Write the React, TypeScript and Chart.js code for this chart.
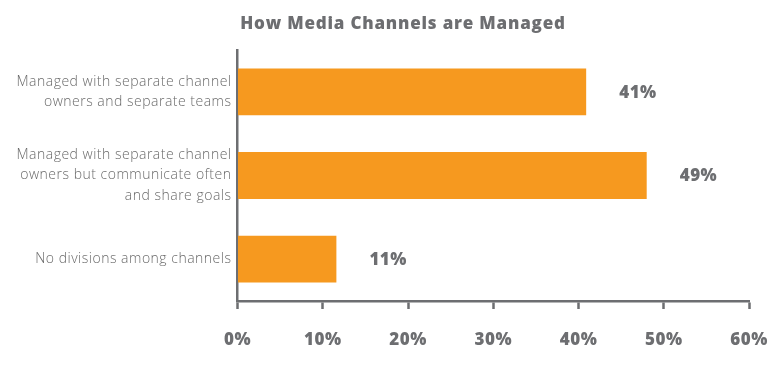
import React, { useEffect, useRef } from "react";
import { Chart, registerables } from "chart.js";

Chart.register(...registerables);

const TITLE = "How Media Channels are Managed";
const categories: string[][] = [
  ["Managed with separate channel", "owners and separate teams"],
  ["Managed with separate channel", "owners but communicate often", "and share goals"],
  ["No divisions among channels"],
];
const values: number[] = [40.9, 48.0, 11.6];
const valueLabels: string[] = ["41%", "49%", "11%"];
const xTicks: number[] = [0, 10, 20, 30, 40, 50, 60];

const ORANGE = "#F6991F";
const GREY = "#6D6E71";

const spacingPlugin = {
  id: "spacing",
  beforeLayout(chart: any) {
    chart.ctx.letterSpacing = "0.5px";
  },
  beforeDraw(chart: any) {
    chart.ctx.letterSpacing = "0.5px";
  },
};

const titlePlugin = {
  id: "customTitle",
  afterDraw(chart: any) {
    const ctx = chart.ctx;
    ctx.save();
    ctx.letterSpacing = "0.8px";
    ctx.font = "800 17px 'Open Sans', sans-serif";
    ctx.fillStyle = GREY;
    ctx.textAlign = "center";
    ctx.textBaseline = "middle";
    ctx.fillText(TITLE, chart.width / 2 + 12, 16);
    ctx.restore();
  },
};

const valueLabelPlugin = {
  id: "valueLabels",
  afterDatasetsDraw(chart: any) {
    const ctx = chart.ctx;
    const meta = chart.getDatasetMeta(0);
    ctx.save();
    ctx.letterSpacing = "0.5px";
    ctx.font = "800 17px 'Open Sans', sans-serif";
    ctx.fillStyle = GREY;
    ctx.textAlign = "left";
    ctx.textBaseline = "middle";
    meta.data.forEach((bar: any, i: number) => {
      ctx.fillText(valueLabels[i], bar.x + 33, bar.y + 1);
    });
    ctx.restore();
  },
};

export default function App() {
  const ref = useRef<HTMLCanvasElement | null>(null);
  useEffect(() => {
    if (!ref.current) return;
    const chart = new Chart(ref.current, {
      type: "bar",
      data: {
        labels: categories,
        datasets: [
          {
            data: values,
            backgroundColor: ORANGE,
            borderWidth: 0,
            categoryPercentage: 1,
            barPercentage: 0.56,
          },
        ],
      },
      options: {
        indexAxis: "y",
        animation: false,
        responsive: true,
        maintainAspectRatio: false,
        layout: { padding: { top: 42, right: 25, left: 0, bottom: 0 } },
        plugins: {
          legend: { display: false },
          title: { display: false },
          tooltip: { enabled: false },
        },
        scales: {
          x: {
            min: 0,
            max: 60,
            afterBuildTicks(scale: any) {
              scale.ticks = xTicks.map((v) => ({ value: v }));
            },
            afterFit(scale: any) {
              scale.height = 61;
              scale.paddingRight = 0;
              scale.paddingLeft = 0;
            },
            grid: {
              drawOnChartArea: false,
              drawTicks: true,
              tickLength: 8,
              tickWidth: 2.5,
              tickColor: GREY,
            },
            border: { display: true, color: GREY, width: 2.5 },
            ticks: {
              callback: (v: any) => v + "%",
              color: GREY,
              font: { family: "'Open Sans', sans-serif", size: 17, weight: 800 },
              padding: 21,
              maxRotation: 0,
            },
          },
          y: {
            afterFit(scale: any) {
              scale.width = 229.5;
              scale.paddingTop = 0;
              scale.paddingBottom = 0;
            },
            grid: { display: false, drawTicks: false },
            border: { display: true, color: GREY, width: 2.5 },
            ticks: {
              color: "#6a6a6a",
              font: { family: "'Open Sans', sans-serif", size: 14, weight: 300, lineHeight: 1.43 },
              padding: 6,
            },
          },
        },
      },
      plugins: [spacingPlugin, titlePlugin, valueLabelPlugin],
    } as any);
    return () => chart.destroy();
  }, []);
  return (
    <div style={{ position: "relative", width: "100%", height: "354px" }}>
      <canvas ref={ref} />
    </div>
  );
}
